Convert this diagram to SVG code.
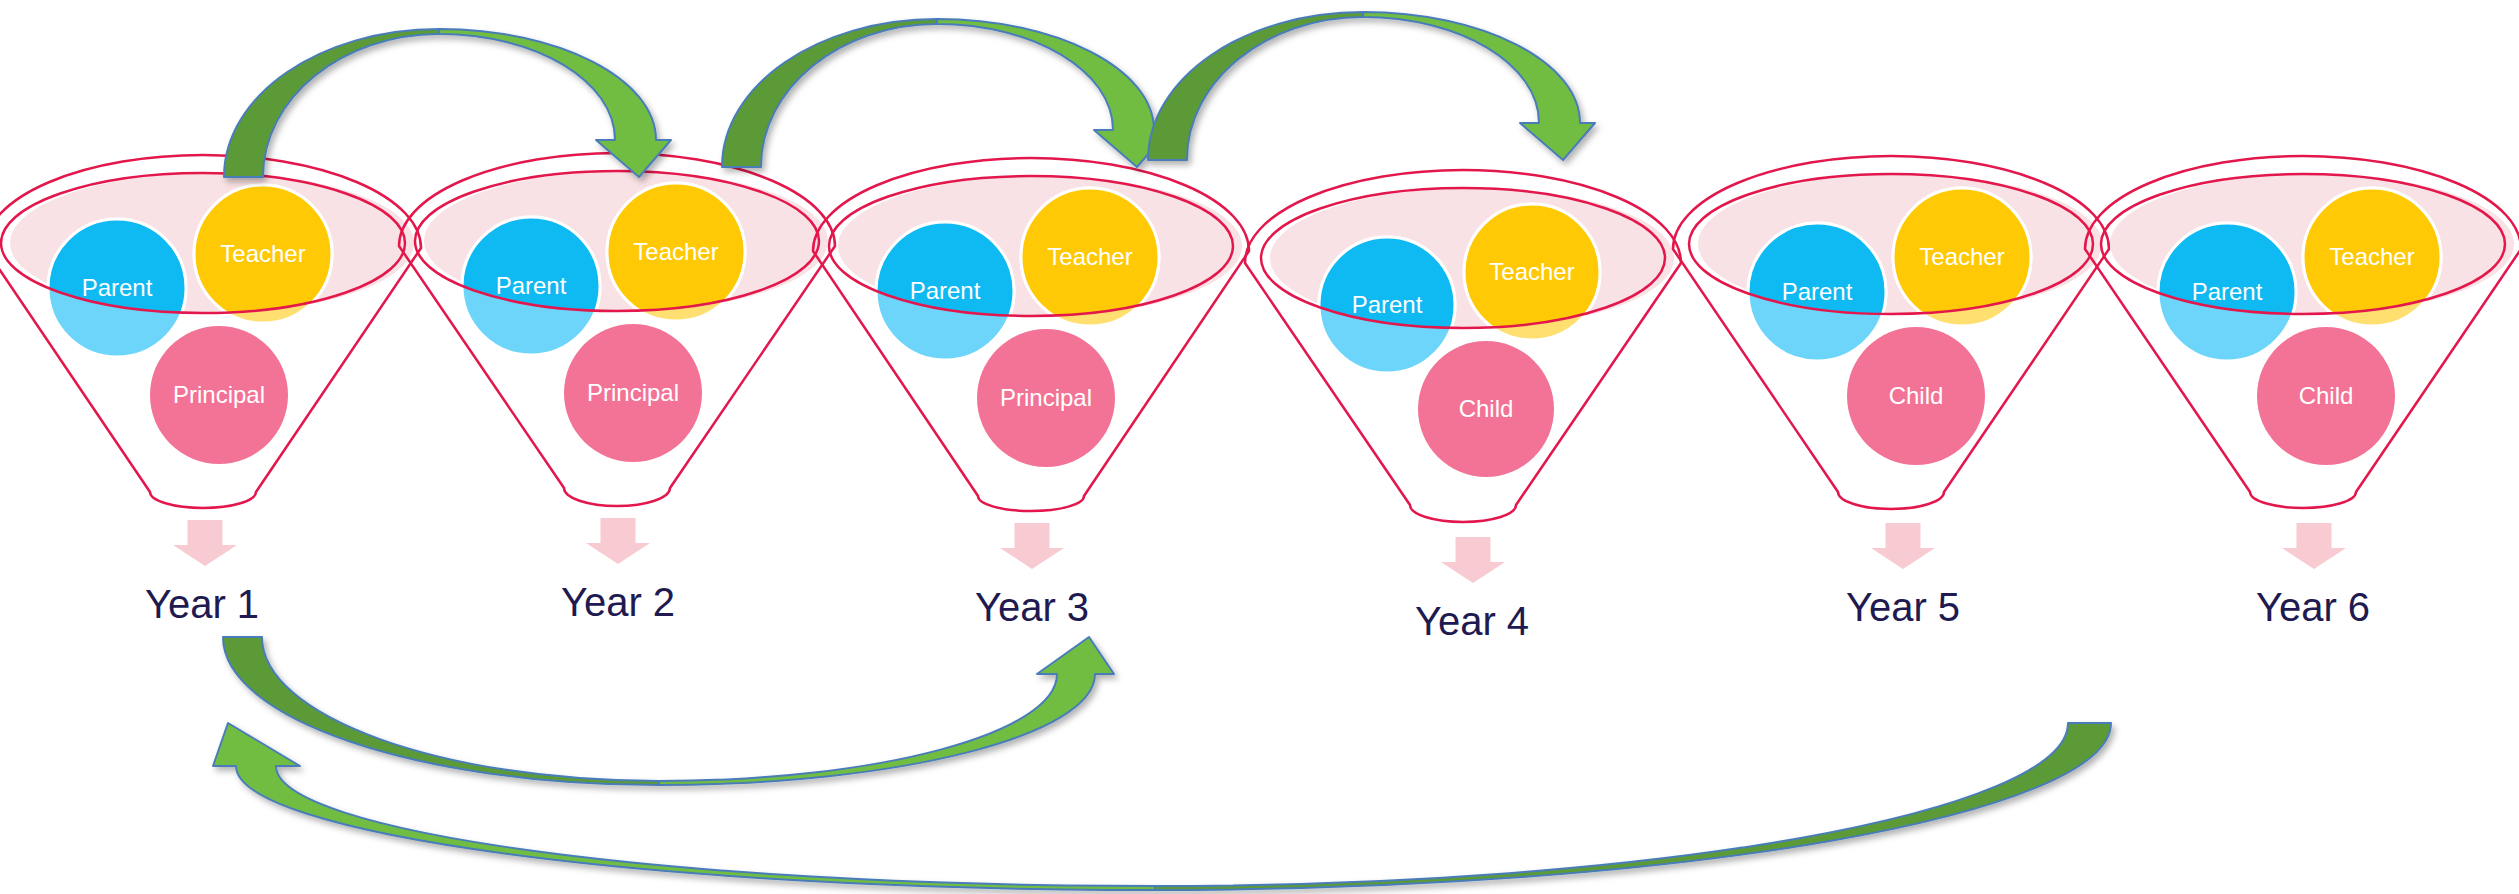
<svg xmlns="http://www.w3.org/2000/svg" width="2519" height="894" viewBox="0 0 2519 894">
<style>
.body{fill:none;stroke:#E3174B;stroke-width:2.5}
.rim{fill:none;stroke:#E3174B;stroke-width:2.5}
.pinkfill{fill:#F9E2E5}
.pl{fill:#6ED5FA;stroke:#fff;stroke-width:3}
.ps{fill:#0FB9F2;stroke:#fff;stroke-width:3}
.tl{fill:#FFDF6F;stroke:#fff;stroke-width:3}
.ts{fill:#FFCA05;stroke:#fff;stroke-width:3}
.pr{fill:#F37396}
.lbl{font-family:"Liberation Sans",Arial,sans-serif;font-size:24px;fill:#fff;text-anchor:middle}
.yr{font-family:"Liberation Sans",Arial,sans-serif;font-size:40px;fill:#201A50;text-anchor:middle}
.down{fill:#F8CBD2}
.dk{fill:#5B9A37;stroke:#4A7DBA;stroke-width:2;stroke-linejoin:round}
.lt{fill:#71BD43;stroke:#4A7DBA;stroke-width:2;stroke-linejoin:round}
</style>
<defs>
<filter id="sh" x="-10%" y="-10%" width="120%" height="130%">
<feDropShadow dx="3" dy="4" stdDeviation="3" flood-color="#000" flood-opacity="0.3"/>
</filter>
<clipPath id="c1"><ellipse cx="203" cy="243" rx="202" ry="70"/></clipPath>
<clipPath id="c2"><ellipse cx="617" cy="241" rx="202" ry="70"/></clipPath>
<clipPath id="c3"><ellipse cx="1031" cy="246" rx="202" ry="70"/></clipPath>
<clipPath id="c4"><ellipse cx="1463" cy="258" rx="202" ry="70"/></clipPath>
<clipPath id="c5"><ellipse cx="1891" cy="244" rx="202" ry="70"/></clipPath>
<clipPath id="c6"><ellipse cx="2303" cy="244" rx="202" ry="70"/></clipPath>
<g id="arrowTop">
<path class="dk" d="M224,177 C224,95 320,29 439,29 L439,34 C342,34 263,98 263,177 Z"/>
<path class="lt" d="M439,29 C559,29 656,79 656,140 L671,140 L639,177 L596,140 L615,140 C615,81 536,34 439,34 Z"/>
</g>
</defs>
<rect width="2519" height="894" fill="#fff"/>

<g id="funnel1">
<path class="body" d="M-15,248 A218 93 0 0 1 421,248 L256,492 A53 16 0 0 1 150,492 Z"/>
<ellipse class="pinkfill" cx="212" cy="243" rx="202" ry="70"/>
<circle class="pl" cx="117" cy="288" r="69"/><circle class="tl" cx="263" cy="254" r="69"/>
<g clip-path="url(#c1)"><circle class="ps" cx="117" cy="288" r="69"/><circle class="ts" cx="263" cy="254" r="69"/></g>
<circle class="pr" cx="219" cy="395" r="69"/>
<ellipse class="rim" cx="203" cy="243" rx="202" ry="70"/>
<text class="lbl" x="117" y="296">Parent</text><text class="lbl" x="263" y="262">Teacher</text><text class="lbl" x="219" y="403">Principal</text>
<path class="down" d="M187.5,520 h35 v25 h14.5 L205,566 L173,545 h14.5 Z"/>
<text class="yr" x="202" y="618">Year 1</text>
</g>

<g id="funnel2">
<path class="body" d="M399,246 A218 93 0 0 1 835,246 L670,488 A53 18 0 0 1 564,488 Z"/>
<ellipse class="pinkfill" cx="626" cy="241" rx="202" ry="70"/>
<circle class="pl" cx="531" cy="286" r="69"/><circle class="tl" cx="676" cy="252" r="69"/>
<g clip-path="url(#c2)"><circle class="ps" cx="531" cy="286" r="69"/><circle class="ts" cx="676" cy="252" r="69"/></g>
<circle class="pr" cx="633" cy="393" r="69"/>
<ellipse class="rim" cx="617" cy="241" rx="202" ry="70"/>
<text class="lbl" x="531" y="294">Parent</text><text class="lbl" x="676" y="260">Teacher</text><text class="lbl" x="633" y="401">Principal</text>
<path class="down" d="M600.5,518 h35 v25 h14.5 L618,564 L586,543 h14.5 Z"/>
<text class="yr" x="618" y="616">Year 2</text>
</g>

<g id="funnel3">
<path class="body" d="M813,251 A218 93 0 0 1 1249,251 L1084,496 A53 15 0 0 1 978,496 Z"/>
<ellipse class="pinkfill" cx="1040" cy="246" rx="202" ry="70"/>
<circle class="pl" cx="945" cy="291" r="69"/><circle class="tl" cx="1090" cy="257" r="69"/>
<g clip-path="url(#c3)"><circle class="ps" cx="945" cy="291" r="69"/><circle class="ts" cx="1090" cy="257" r="69"/></g>
<circle class="pr" cx="1046" cy="398" r="69"/>
<ellipse class="rim" cx="1031" cy="246" rx="202" ry="70"/>
<text class="lbl" x="945" y="299">Parent</text><text class="lbl" x="1090" y="265">Teacher</text><text class="lbl" x="1046" y="406">Principal</text>
<path class="down" d="M1014.5,523 h35 v25 h14.5 L1032,569 L1000,548 h14.5 Z"/>
<text class="yr" x="1032" y="621">Year 3</text>
</g>

<g id="funnel4">
<path class="body" d="M1245,263 A218 93 0 0 1 1681,263 L1516,505 A53 17 0 0 1 1410,505 Z"/>
<ellipse class="pinkfill" cx="1472" cy="258" rx="202" ry="70"/>
<circle class="pl" cx="1387" cy="305" r="68"/><circle class="tl" cx="1532" cy="272" r="68"/>
<g clip-path="url(#c4)"><circle class="ps" cx="1387" cy="305" r="68"/><circle class="ts" cx="1532" cy="272" r="68"/></g>
<circle class="pr" cx="1486" cy="409" r="68"/>
<ellipse class="rim" cx="1463" cy="258" rx="202" ry="70"/>
<text class="lbl" x="1387" y="313">Parent</text><text class="lbl" x="1532" y="280">Teacher</text><text class="lbl" x="1486" y="417">Child</text>
<path class="down" d="M1455.5,537 h35 v25 h14.5 L1473,583 L1441,562 h14.5 Z"/>
<text class="yr" x="1472" y="635">Year 4</text>
</g>

<g id="funnel5">
<path class="body" d="M1673,249 A218 93 0 0 1 2109,249 L1944,492 A53 17 0 0 1 1838,492 Z"/>
<ellipse class="pinkfill" cx="1900" cy="244" rx="202" ry="70"/>
<circle class="pl" cx="1817" cy="292" r="69"/><circle class="tl" cx="1962" cy="257" r="69"/>
<g clip-path="url(#c5)"><circle class="ps" cx="1817" cy="292" r="69"/><circle class="ts" cx="1962" cy="257" r="69"/></g>
<circle class="pr" cx="1916" cy="396" r="69"/>
<ellipse class="rim" cx="1891" cy="244" rx="202" ry="70"/>
<text class="lbl" x="1817" y="300">Parent</text><text class="lbl" x="1962" y="265">Teacher</text><text class="lbl" x="1916" y="404">Child</text>
<path class="down" d="M1885.5,523 h35 v25 h14.5 L1903,569 L1871,548 h14.5 Z"/>
<text class="yr" x="1903" y="621">Year 5</text>
</g>

<g id="funnel6">
<path class="body" d="M2085,249 A218 93 0 0 1 2521,249 L2356,492 A53 16 0 0 1 2250,492 Z"/>
<ellipse class="pinkfill" cx="2312" cy="244" rx="202" ry="70"/>
<circle class="pl" cx="2227" cy="292" r="69"/><circle class="tl" cx="2372" cy="257" r="69"/>
<g clip-path="url(#c6)"><circle class="ps" cx="2227" cy="292" r="69"/><circle class="ts" cx="2372" cy="257" r="69"/></g>
<circle class="pr" cx="2326" cy="396" r="69"/>
<ellipse class="rim" cx="2303" cy="244" rx="202" ry="70"/>
<text class="lbl" x="2227" y="300">Parent</text><text class="lbl" x="2372" y="265">Teacher</text><text class="lbl" x="2326" y="404">Child</text>
<path class="down" d="M2296.5,523 h35 v25 h14.5 L2314,569 L2282,548 h14.5 Z"/>
<text class="yr" x="2313" y="621">Year 6</text>
</g>

<g id="connectors" filter="url(#sh)">
<use href="#arrowTop"/>
<use href="#arrowTop" transform="translate(498,-10)"/>
<use href="#arrowTop" transform="translate(924,-17)"/>
<path class="dk" d="M223,637 C223,719 418,785 659,785 L659,781 C440,781 262,716 262,637 Z"/>
<path class="lt" d="M659,785 C900,785 1095,735 1095,674 L1114,674 L1089,637 L1037,674 L1057,674 C1057,733 879,781 659,781 Z"/>
<path class="dk" d="M2111,723 C2111,815 1680,890 1155,890 L1155,886 C1656,886 2068,813 2068,723 Z"/>
<path class="lt" d="M1155,890 C645,890 236,834 236,766 L213,766 L228,723 L300,766 L276,766 C276,832 667,886 1155,886 Z"/>
</g>
</svg>
